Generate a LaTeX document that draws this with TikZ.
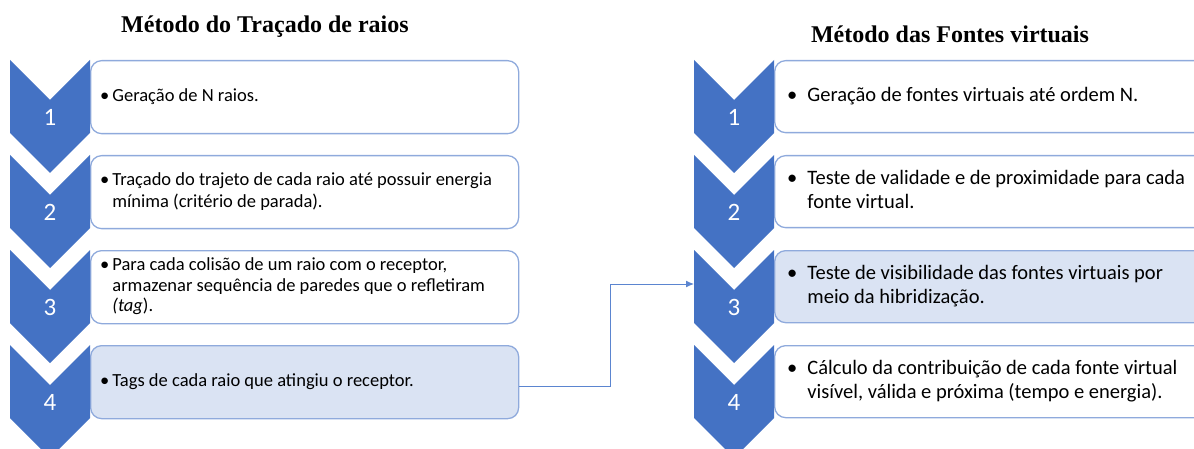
\documentclass[tikz,border=0pt]{standalone}
\usepackage{fontspec}
\setmainfont{Carlito}
\newfontfamily\titlefont{Liberation Serif}
\usetikzlibrary{arrows.meta,calc}
\definecolor{chev}{HTML}{4472C4}
\definecolor{bord}{HTML}{8FAADC}
\definecolor{lite}{HTML}{DAE3F3}
\definecolor{conncol}{HTML}{5B85D0}
\tikzset{
  boxL/.style={draw=bord, line width=1.3pt, rounded corners=11pt, fill=white, minimum width=428pt, minimum height=73pt, anchor=north west, inner sep=0pt},
  boxR/.style={draw=bord, line width=1.3pt, rounded corners=11pt, fill=white, minimum width=460pt, minimum height=72pt, anchor=north west, inner sep=0pt},
  hl/.style={fill=lite},
  txtL/.style={anchor=west, inner sep=0pt, font=\fontsize{18.5}{22.5}\selectfont},
  txtR/.style={anchor=west, inner sep=0pt, font=\fontsize{20.5}{24}\selectfont},
  num/.style={text=white, inner sep=0pt, font=\fontsize{25}{25}\selectfont},
  ttl/.style={inner sep=0pt, font=\titlefont\bfseries\fontsize{24}{26}\selectfont},
  conn/.style={draw=conncol, line width=1pt, -{Latex[length=8pt,width=7pt]}}
}
\newcommand\chevshape[3]{% left x, right x, top y
  \fill[chev] (#1,#3) -- ({(#1+#2)/2},#3+40) -- (#2,#3) -- (#2,#3+73) -- ({(#1+#2)/2},#3+113) -- (#1,#3+73) -- cycle;}
\begin{document}
\begin{tikzpicture}[x=1pt,y=-1pt]
\useasboundingbox (0,0) rectangle (1194,449);
\clip (0,0) rectangle (1194,449);

% titles
\node[ttl] (T1) at (265,27) {Método do Traçado de raios};
\node[ttl] (T2) at (950,34) {Método das Fontes virtuais};

% left boxes
\node[boxL] (L1) at (90,60) {};
\node[boxL] (L2) at (90,155) {};
\node[boxL] (L3) at (90,250) {};
\node[boxL,hl] (L4) at (90,345) {};

% right boxes
\node[boxR] (R1) at (774,60) {};
\node[boxR] (R2) at (774,155) {};
\node[boxR,hl] (R3) at (774,250) {};
\node[boxR] (R4) at (774,345) {};

% chevrons
\chevshape{10}{90}{60}
\chevshape{10}{90}{155}
\chevshape{10}{90}{250}
\chevshape{10}{90}{345}
\chevshape{694}{774}{60}
\chevshape{694}{774}{155}
\chevshape{694}{774}{250}
\chevshape{694}{774}{345}

% numbers
\node[num] (nL1) at (50,117) {1};
\node[num] (nL2) at (50,212) {2};
\node[num] (nL3) at (50,307) {3};
\node[num] (nL4) at (50,402) {4};
\node[num] (nR1) at (734,117) {1};
\node[num] (nR2) at (734,212) {2};
\node[num] (nR3) at (734,307) {3};
\node[num] (nR4) at (734,402) {4};

% left texts
\node[txtL] (tL1) at ([xshift=10pt]L1.west) {\begin{tabular}{@{}l@{\hspace{3pt}}l@{}}•&Geração de N raios.\end{tabular}};
\node[txtL] (tL2) at ([xshift=10pt]L2.west) {\begin{tabular}{@{}l@{\hspace{3pt}}l@{}}•&Traçado do trajeto de cada raio até possuir energia\\&mínima (critério de parada).\end{tabular}};
\node[txtL,font=\fontsize{18.5}{20.5}\selectfont] (tL3) at ([xshift=10pt]L3.west) {\begin{tabular}{@{}l@{\hspace{3pt}}l@{}}•&Para cada colisão de um raio com o receptor,\\&armazenar sequência de paredes que o refletiram\\&\textit{(tag}).\end{tabular}};
\node[txtL] (tL4) at ([xshift=10pt]L4.west) {\begin{tabular}{@{}l@{\hspace{3pt}}l@{}}•&Tags de cada raio que atingiu o receptor.\end{tabular}};

% right texts
\node[txtR] (tR1) at ([xshift=13pt]R1.west) {\begin{tabular}{@{}l@{\hspace{10pt}}l@{}}•&Geração de fontes virtuais até ordem N.\end{tabular}};
\node[txtR] (tR2) at ([xshift=13pt]R2.west) {\begin{tabular}{@{}l@{\hspace{10pt}}l@{}}•&Teste de validade e de proximidade para cada\\&fonte virtual.\end{tabular}};
\node[txtR] (tR3) at ([xshift=13pt]R3.west) {\begin{tabular}{@{}l@{\hspace{10pt}}l@{}}•&Teste de visibilidade das fontes virtuais por\\&meio da hibridização.\end{tabular}};
\node[txtR] (tR4) at ([xshift=13pt]R4.west) {\begin{tabular}{@{}l@{\hspace{10pt}}l@{}}•&Cálculo da contribuição de cada fonte virtual\\&visível, válida e próxima (tempo e energia).\end{tabular}};

% connector
\coordinate (c3) at (694,284);
\draw[conn] ([yshift=-4.5pt]L4.east) -- ++(91,0) |- (c3);
\end{tikzpicture}
\end{document}
